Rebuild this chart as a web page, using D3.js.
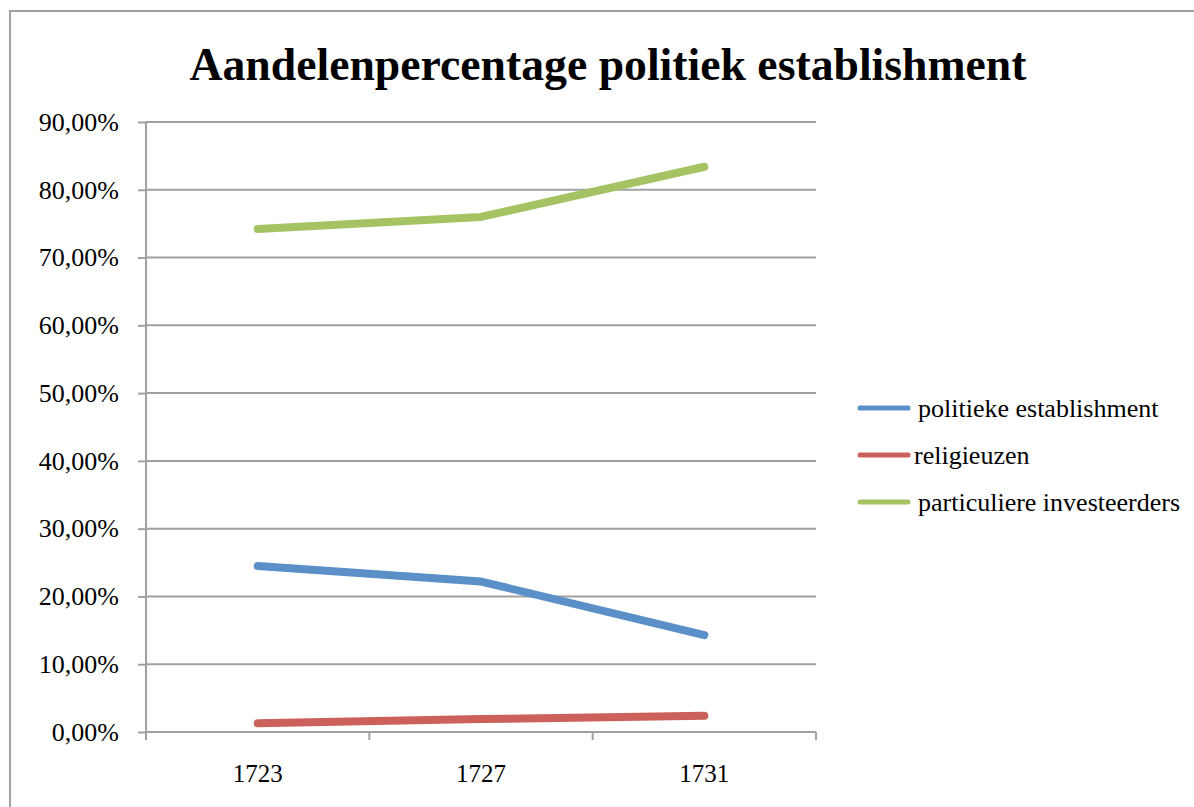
<!DOCTYPE html>
<html><head><meta charset="utf-8">
<script src="https://cdn.jsdelivr.net/npm/d3@7/dist/d3.min.js"></script>
<style>body{margin:0;background:#fff;}svg{display:block;}</style>
</head><body>
<script>
const title = "Aandelenpercentage politiek establishment";
const years = ["1723", "1727", "1731"];
const seriesNames = ["politieke establishment", "religieuzen", "particuliere investeerders"];
const politiek = [0.245, 0.222, 0.143];
const religieuzen = [0.013, 0.019, 0.024];
const particulier = [0.742, 0.760, 0.834];
const yTicks = [0, 0.1, 0.2, 0.3, 0.4, 0.5, 0.6, 0.7, 0.8, 0.9];
const colors = ["#5A8FC8", "#CC605B", "#A6C364"];

const FONT = '"Liberation Serif"';
const W = 1194, H = 807;
const svg = d3.select("body").append("svg").attr("width", W).attr("height", H)
  .style("font-family", FONT);
svg.append("rect").attr("x", 10).attr("y", 11).attr("width", W + 10).attr("height", H + 10)
  .attr("fill", "#fff").attr("stroke", "#A0A0A0").attr("stroke-width", 2);

svg.append("text").attr("x", 608).attr("y", 80).attr("text-anchor", "middle")
  .style("font-family", FONT).style("font-size", "46px").style("font-weight", "bold")
  .attr("textLength", 837).attr("lengthAdjust", "spacingAndGlyphs").text(title);

const x = d3.scaleBand().domain(years).range([146, 816]);
const y = d3.scaleLinear().domain([0, 0.9]).range([732, 122]);
const fmt = v => d3.format(".2f")(v * 100).replace(".", ",") + "%";

// gridlines
svg.append("g").selectAll("line").data(yTicks).join("line")
  .attr("x1", 146).attr("x2", 816).attr("y1", d => y(d)).attr("y2", d => y(d))
  .attr("stroke", "#A0A0A0").attr("stroke-width", 2);

const yAxis = svg.append("g").attr("transform", "translate(146,0)")
  .call(d3.axisLeft(y).tickValues(yTicks).tickFormat(fmt).tickSize(8).tickPadding(19));
yAxis.attr("font-family", null).attr("font-size", null).style("font-family", FONT);
yAxis.selectAll("line,path").attr("stroke", "#A0A0A0").attr("stroke-width", 2);
yAxis.select(".domain").attr("d", "M0,122V740");
yAxis.selectAll("text").style("font-size", "26px").style("font-family", FONT).style("fill", "#000");

const xAxis = svg.append("g").attr("transform", "translate(0,732)")
  .call(d3.axisBottom(x).tickSize(0).tickPadding(32));
xAxis.attr("font-family", null).attr("font-size", null).style("font-family", FONT);
xAxis.select(".domain").attr("stroke", "#A0A0A0").attr("stroke-width", 2).attr("d", "M146,0H816");
xAxis.selectAll("text").style("font-size", "25px").style("font-family", FONT).style("fill", "#000");
const bounds = [146].concat(years.map(d => x(d) + x.bandwidth()));
xAxis.append("g").selectAll("line").data(bounds).join("line")
  .attr("x1", d => d).attr("x2", d => d).attr("y1", 0).attr("y2", 8)
  .attr("stroke", "#A0A0A0").attr("stroke-width", 2);

const data = [politiek, religieuzen, particulier];
const line = d3.line().x((d, i) => x(years[i]) + x.bandwidth() / 2).y(d => y(d));
svg.append("g").selectAll("path").data(data).join("path")
  .attr("d", line).attr("fill", "none")
  .attr("stroke", (d, i) => colors[i]).attr("stroke-width", 8)
  .attr("stroke-linecap", "round").attr("stroke-linejoin", "round");

const legY = [408, 455, 502];
const textX = [918, 914, 918];
const leg = svg.append("g");
seriesNames.forEach((n, i) => {
  leg.append("line").attr("x1", 860).attr("x2", 908).attr("y1", legY[i]).attr("y2", legY[i])
    .attr("stroke", colors[i]).attr("stroke-width", 5).attr("stroke-linecap", "round");
  leg.append("text").attr("x", textX[i]).attr("y", legY[i] + 9)
    .style("font-family", FONT).style("font-size", "26px").text(n);
});
</script>
</body></html>
